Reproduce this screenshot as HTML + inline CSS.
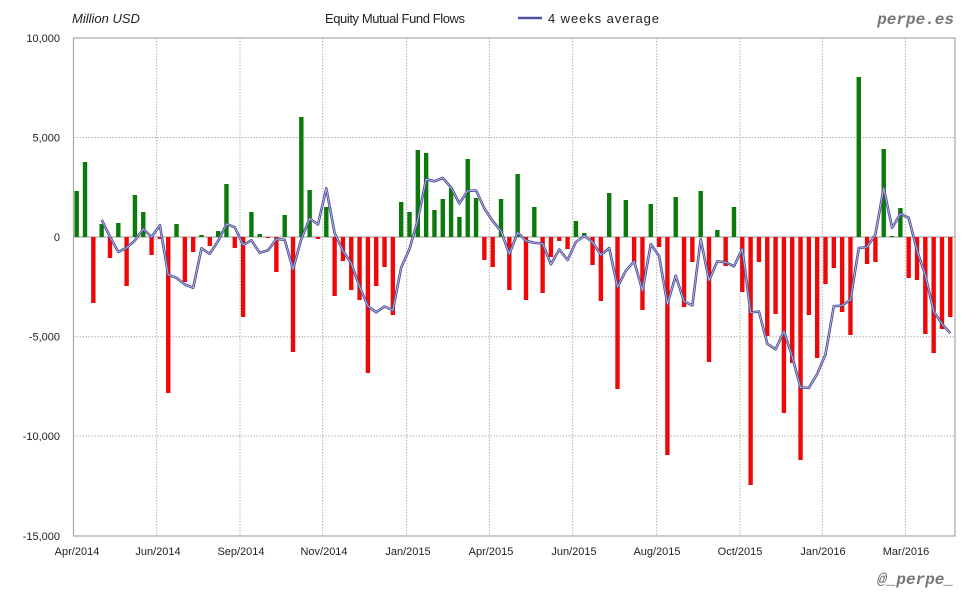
<!DOCTYPE html>
<html><head><meta charset="utf-8">
<style>
html,body{margin:0;padding:0;background:#fff;}
svg{display:block;font-family:"Liberation Sans",sans-serif;}
</style></head><body>
<svg id="c" width="980" height="600" viewBox="0 0 980 600" xmlns="http://www.w3.org/2000/svg">
<rect x="0" y="0" width="980" height="600" fill="#fff"/>
<g id="grid"></g>
<g id="bars"></g>
<g id="line"></g>
<rect x="73.5" y="38" width="881.5" height="498" fill="none" stroke="#a8a8a8" stroke-width="1.2"/>
<g font-size="11" fill="#222" text-anchor="end">
<text x="60" y="42">10,000</text>
<text x="60" y="141.5">5,000</text>
<text x="60" y="241">0</text>
<text x="60" y="340.5">-5,000</text>
<text x="60" y="440">-10,000</text>
<text x="60" y="540">-15,000</text>
</g>
<g font-size="11" fill="#222" text-anchor="middle">
<text x="77" y="555">Apr/2014</text>
<text x="158" y="555">Jun/2014</text>
<text x="241" y="555">Sep/2014</text>
<text x="324" y="555">Nov/2014</text>
<text x="408" y="555">Jan/2015</text>
<text x="491" y="555">Apr/2015</text>
<text x="574" y="555">Jun/2015</text>
<text x="657" y="555">Aug/2015</text>
<text x="740" y="555">Oct/2015</text>
<text x="823" y="555">Jan/2016</text>
<text x="906" y="555">Mar/2016</text>
</g>
<text x="72" y="23" font-size="13" font-style="italic" fill="#222">Million USD</text>
<text x="325" y="23" font-size="13" fill="#222" textLength="140">Equity Mutual Fund Flows</text>
<line x1="518" y1="18" x2="542" y2="18" stroke="#50509a" stroke-width="2.5"/>
<text x="548" y="23" font-size="13" fill="#222" textLength="111">4 weeks average</text>
<text x="954" y="24" font-size="16" font-weight="bold" font-style="italic" fill="#777" text-anchor="end" font-family="Liberation Mono,monospace">perpe.es</text>
<text x="954" y="584" font-size="16" font-weight="bold" font-style="italic" fill="#777" text-anchor="end" font-family="Liberation Mono,monospace">@_perpe_</text>
</svg>
<script>
(function(){
var Y=[191,162,303,224,258,223,286,195,212,255,239,393,224,282,252,235,246,231,184,248,317,212,234,238,272,215,352,117,190,239,207,296,261,290,300,373,286,267,315,202,212,150,153,210,199,188,217,159,198,260,267,199,290,174,300,207,293,257,241,249,221,233,265,301,193,389,200,263,310,204,247,455,197,307,262,191,362,230,266,207,292,485,262,336,314,413,363,460,315,358,284,268,312,335,77,264,262,149,236,208,278,280,334,353,329,317];
var ns="http://www.w3.org/2000/svg",Z=237;
function el(t,a,p){var e=document.createElementNS(ns,t);for(var k in a)e.setAttribute(k,a[k]);p.appendChild(e);return e;}
var g=document.getElementById('grid');
[137.5,336.7,436].forEach(function(y){el('line',{x1:73.5,x2:955,y1:y,y2:y,stroke:'#b0b0b0','stroke-dasharray':'1.5,1.5'},g);});
[156.7,240,322.7,406.7,489.3,572.7,656.7,740,822.3,905.3].forEach(function(x){el('line',{x1:x,x2:x,y1:38,y2:536,stroke:'#b0b0b0','stroke-dasharray':'1.5,1.5'},g);});
el('line',{x1:73.5,x2:955,y1:Z,y2:Z,stroke:'#999','stroke-width':1},g);
var b=document.getElementById('bars');
var pts=[];
for(var i=0;i<Y.length;i++){
 var x=76.7+i*8.32,yy=Y[i];
 var ty=Math.min(yy,Z),h=Math.abs(yy-Z);
 if(h<1)h=1;
 el('rect',{x:x-2.2,y:ty,width:4.4,height:h,fill:yy<Z?'#0a7a0a':'#ee0808'},b);
 if(i>=3){var s=0;for(var j=i-3;j<=i;j++)s+=Y[j];pts.push(x.toFixed(1)+','+(s/4).toFixed(1));}
}
var l=document.getElementById('line');
el('polyline',{points:pts.join(' '),fill:'none',stroke:'#4c4c96','stroke-width':2.6,'stroke-linejoin':'round'},l);
el('polyline',{points:pts.join(' '),fill:'none',stroke:'#c4c4e6','stroke-width':0.8,'stroke-linejoin':'round'},l);
})();
</script>
</body></html>
